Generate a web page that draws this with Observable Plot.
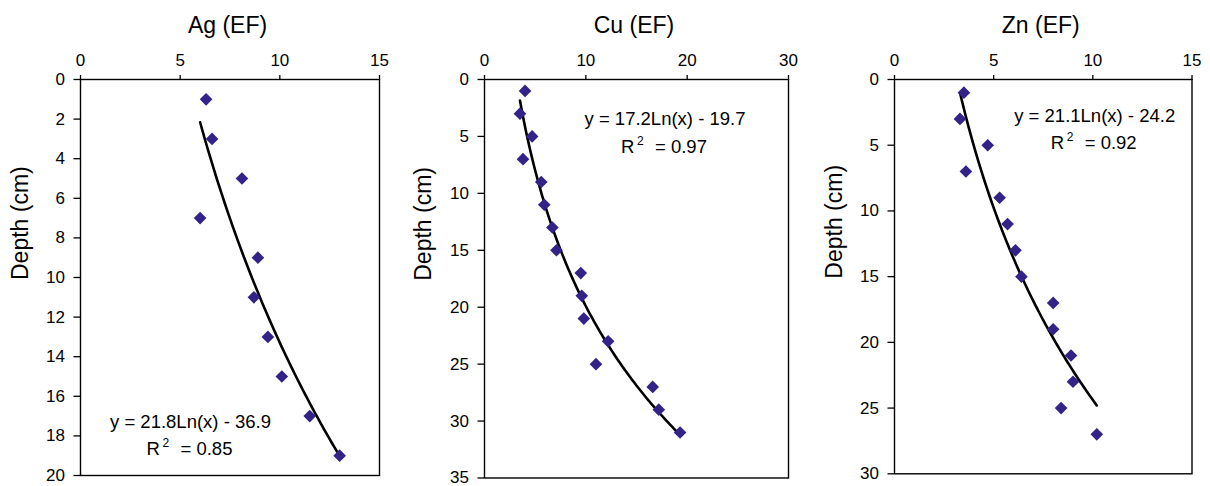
<!DOCTYPE html>
<html><head><meta charset="utf-8">
<script src="https://cdn.jsdelivr.net/npm/d3@7"></script>
<script src="https://cdn.jsdelivr.net/npm/@observablehq/plot@0.6"></script>
<style>
html,body{margin:0;padding:0;background:#fff;}
#wrap{position:relative;width:1210px;height:486px;overflow:hidden;background:#fff;}
.panel{position:absolute;top:0;}
</style></head><body><div id="wrap"></div>
<script>
// ---- data ----
const agDepth = [1,3,5,7,9,11,13,15,17,19];
const agEF    = [6.3,6.6,8.1,6.0,8.9,8.7,9.4,10.1,11.5,13.0];
const cuDepth = [1,3,5,7,9,11,13,15,17,19,21,23,25,27,29,31];
const cuEF    = [4.0,3.5,4.7,3.8,5.6,5.9,6.7,7.1,9.5,9.6,9.8,12.2,11.0,16.6,17.2,19.3];
const znDepth = [1,3,5,7,9,11,13,15,17,19,21,23,25,27];
const znEF    = [3.5,3.3,4.7,3.6,5.3,5.7,6.1,6.4,8.0,8.0,8.9,9.0,8.4,10.2];
// logarithmic trendline coefficients: depth = a*ln(EF) + b
const agFit = [21.8, -36.9]; const agR2 = "0.85";
const cuFit = [17.2, -19.7]; const cuR2 = "0.97";
const znFit = [21.1, -24.2]; const znR2 = "0.92";
const titles = ["Ag (EF)", "Cu (EF)", "Zn (EF)"];
const yLabel = "Depth (cm)";
const agXTicks = [0,5,10,15];  const agYTicks = [0,2,4,6,8,10,12,14,16,18,20];
const cuXTicks = [0,10,20,30]; const cuYTicks = [0,5,10,15,20,25,30,35];
const znXTicks = [0,5,10,15];  const znYTicks = [0,5,10,15,20,25,30];

const FONT = "'Liberation Sans', Arial, Helvetica, sans-serif";
const MARK = "#332288";
const TICKFONT = 17;

function fitCurve(efs, fit) {
  const lo = d3.min(efs), hi = d3.max(efs), n = 80;
  return d3.range(n + 1).map(i => {
    const x = lo + (hi - lo) * i / n;
    return {x, y: fit[0] * Math.log(x) + fit[1]};
  });
}
function eqText(fit) {
  return `y = ${fit[0].toFixed(1)}Ln(x) - ${Math.abs(fit[1]).toFixed(1)}`;
}

const panels = [
  {title: titles[0], depth: agDepth, ef: agEF, fit: agFit, r2: agR2, xTicks: agXTicks, yTicks: agYTicks,
   left: 0, width: 400, m: [79, 21, 11, 80], ann: [110, 342.7, 369.8], lab: [-60, 2.5]},
  {title: titles[1], depth: cuDepth, ef: cuEF, fit: cuFit, r2: cuR2, xTicks: cuXTicks, yTicks: cuYTicks,
   left: 400, width: 410, m: [79, 22, 8.5, 84], ann: [180.5, 39.8, 67.7], lab: [-61, 2]},
  {title: titles[2], depth: znDepth, ef: znEF, fit: znFit, r2: znR2, xTicks: znXTicks, yTicks: znYTicks,
   left: 810, width: 400, m: [79, 18.5, 12.7, 84], ann: [200.2, 36.5, 63.7], lab: [-60, 2]}
];

const wrap = document.getElementById("wrap");
for (const p of panels) {
  const pts = p.depth.map((d, i) => ({x: p.ef[i], y: d}));
  const [cx, cyEq, cyR] = p.ann;
  const chart = Plot.plot({
    width: p.width, height: 486,
    marginTop: p.m[0], marginRight: p.m[1], marginBottom: p.m[2], marginLeft: p.m[3],
    style: {fontFamily: FONT, fontSize: TICKFONT + "px", color: "black", background: "white", overflow: "visible"},
    x: {domain: [p.xTicks[0], p.xTicks[p.xTicks.length - 1]]},
    y: {domain: [p.yTicks[0], p.yTicks[p.yTicks.length - 1]], reverse: true},
    marks: [
      Plot.axisX({anchor: "top", ticks: p.xTicks, tickSize: 5, tickPadding: 9, fontSize: TICKFONT, strokeWidth: 1.3, label: null}),
      Plot.axisY({anchor: "left", ticks: p.yTicks, tickSize: 6.5, tickPadding: 9, fontSize: TICKFONT, strokeWidth: 1.3, label: null}),
      Plot.frame({stroke: "black", strokeWidth: 1.4}),
      Plot.line(fitCurve(p.ef, p.fit), {x: "x", y: "y", stroke: "black", strokeWidth: 2.6}),
      Plot.dot(pts, {x: "x", y: "y", symbol: "diamond2", r: 5.7, fill: MARK, stroke: "none"}),
      // title
      Plot.text([p.title], {text: d => d, frameAnchor: "top", dx: -2.5, dy: -47, lineAnchor: "bottom", fontSize: 23}),
      // y label
      Plot.text([yLabel], {text: d => d, frameAnchor: "left", rotate: -90, dx: p.lab[0], dy: p.lab[1], lineAnchor: "middle", fontSize: 23}),
      // equation
      Plot.text([eqText(p.fit)], {text: d => d, frameAnchor: "top-left", dx: cx, dy: cyEq, textAnchor: "middle", lineAnchor: "middle", fontSize: 18.5}),
      // R^2 line
      Plot.text(["R"], {text: d => d, frameAnchor: "top-left", dx: cx - 44, dy: cyR, textAnchor: "start", lineAnchor: "middle", fontSize: 18.5}),
      Plot.text(["2"], {text: d => d, frameAnchor: "top-left", dx: cx - 28, dy: cyR - 6, textAnchor: "start", lineAnchor: "middle", fontSize: 12}),
      Plot.text(["= " + p.r2], {text: d => d, frameAnchor: "top-left", dx: cx - 10, dy: cyR, textAnchor: "start", lineAnchor: "middle", fontSize: 18.5})
    ]
  });
  chart.classList.add("panel");
  chart.style.left = p.left + "px";
  wrap.appendChild(chart);
}
</script>
</body></html>
